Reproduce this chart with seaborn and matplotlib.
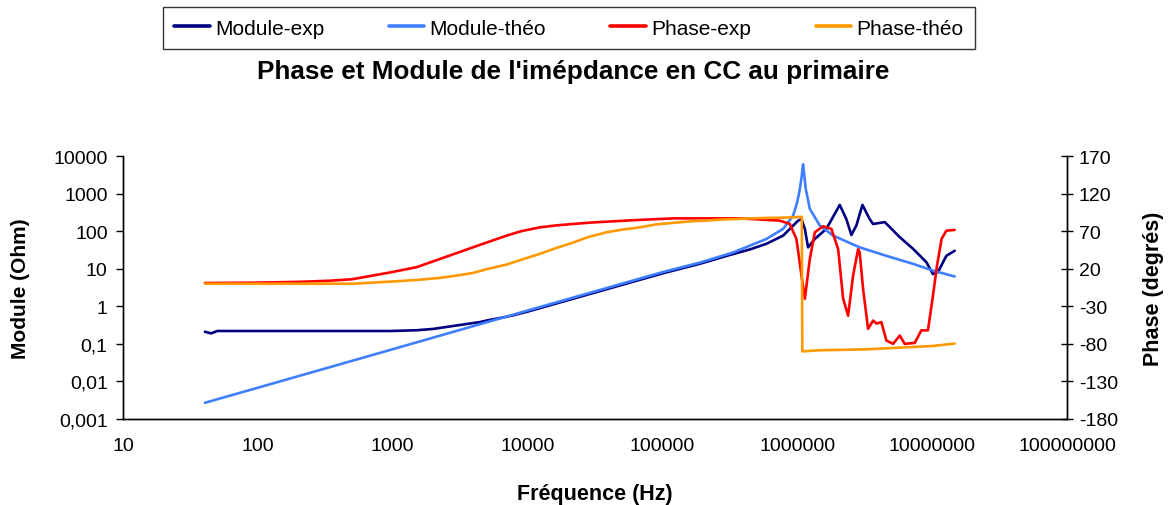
import numpy as np
import pandas as pd
import matplotlib
matplotlib.use('Agg')
import matplotlib.pyplot as plt
import seaborn as sns
from matplotlib.ticker import FixedLocator, FixedFormatter, NullLocator

sns.set_style("white")
plt.rcParams['font.family'] = ['Liberation Sans', 'DejaVu Sans']
plt.rcParams['axes.unicode_minus'] = False
plt.rcParams['text.color'] = 'black'
plt.rcParams['axes.labelcolor'] = 'black'

# Module théorique (Ohm) vs fréquence (Hz)
freq_mod_theo = [40.5, 100, 1000, 10000, 100000, 189000, 334000, 590000, 785000,
                 931000, 1000000, 1045000, 1080000, 1104000, 1156000, 1239000,
                 1469000, 1845000, 2904000, 4581000, 7211000, 10140000, 14690000]
mod_theo = [0.0027, 0.0068, 0.072, 0.77, 8.1, 14.5, 27, 62, 115,
            257, 600, 1320, 3000, 6000, 1320, 390,
            141, 76, 37, 22, 13.5, 8.9, 6.2]

# Module expérimental
freq_mod_exp = [40.5, 45, 50, 100, 300, 955, 1500, 2000, 2650, 3000, 4430, 5000,
                6500, 7760, 10000, 100000, 189000, 300000, 450000, 590000, 785000,
                1014000, 1074000, 1138000, 1202000, 1349000, 1644000, 2065000,
                2312000, 2518000, 2742000, 3041000, 3443000, 3648000, 4457000,
                5754000, 7211000, 9057000, 10140000, 11040000, 12740000, 14690000]
mod_exp = [0.21, 0.19, 0.22, 0.22, 0.22, 0.22, 0.23, 0.25, 0.29, 0.31, 0.38, 0.42,
           0.5, 0.57, 0.72, 7.5, 13.5, 22, 33, 46, 76,
           190, 209, 115, 37, 62, 115, 500,
           209, 79, 141, 500, 209, 155, 174,
           69, 34, 15, 7.2, 8.1, 22, 30]

# Phase expérimentale (degrés)
freq_ph_exp = [40.5, 100, 200, 339, 500, 955, 1500, 2240, 3000, 3950, 5000, 6980,
               9000, 12300, 16000, 21900, 30000, 38500, 60000, 120000, 372000,
               741000, 879000, 986000, 1074000, 1138000, 1239000, 1349000, 1556000,
               1790000, 2009000, 2188000, 2382000, 2594000, 2825000, 2900000,
               3076000, 3350000, 3650000, 3870000, 4200000, 4581000, 5130000,
               5754000, 6260000, 7430000, 8320000, 9310000, 10140000, 10860000,
               11750000, 12740000, 14690000]
ph_exp = [1, 1.5, 2.5, 4, 6, 15, 22, 33, 41, 48.6, 55, 64,
          70, 75, 77.5, 79.6, 81.5, 82.6, 84.5, 87, 87,
          84, 79.6, 59.6, 11, -20, 33, 68.5, 76.5,
          73, 46, -20, -42.5, 11, 46, 42,
          -7, -60, -49, -53, -51, -75.6, -80,
          -69, -80, -78.7, -62, -62, -16, 24,
          59.6, 70.6, 71.6]

# Phase théorique
freq_ph_theo = [40.5, 500, 1000, 1500, 2240, 3000, 3950, 5000, 6980, 9000, 12300,
                16000, 21900, 28000, 38500, 50000, 67600, 90000, 120000, 160000,
                209000, 280000, 372000, 550000, 800000, 1080000, 1090000, 1470000,
                3240000, 5750000, 10140000, 14690000]
ph_theo = [0, 0, 3, 5, 7.8, 11, 14.4, 19.5, 25.5, 32, 39.7,
           47, 55, 62, 68.5, 72, 75, 79, 81, 83,
           84, 85.5, 86.3, 87.5, 88, 89, -90, -88.5,
           -87.3, -85, -82.8, -79.6]

x_ticks = [10, 100, 1000, 10000, 100000, 1000000, 10000000, 100000000]
x_labels = ['10', '100', '1000', '10000', '100000', '1000000', '10000000', '100000000']
y_ticks = [0.001, 0.01, 0.1, 1, 10, 100, 1000, 10000]
y_labels = ['0,001', '0,01', '0,1', '1', '10', '100', '1000', '10000']
ph_ticks = [-180, -130, -80, -30, 20, 70, 120, 170]

c_mod_exp = '#000080'
c_mod_theo = '#3F7FFF'
c_ph_exp = '#FF0000'
c_ph_theo = '#FF9900'
lw = 1.9

fig = plt.figure(figsize=(11.68, 5.06), dpi=100)
ax = fig.add_axes([123 / 1168, 1 - 420 / 506, (1067 - 123) / 1168, (420 - 157) / 506])
ax.set_xscale('log')
ax.set_yscale('log')
ax2 = ax.twinx()

sns.lineplot(x=freq_mod_exp, y=mod_exp, ax=ax, color=c_mod_exp, lw=lw, label='Module-exp', legend=False)
sns.lineplot(x=freq_mod_theo, y=mod_theo, ax=ax, color=c_mod_theo, lw=lw, label='Module-théo', legend=False)
sns.lineplot(x=freq_ph_exp, y=ph_exp, ax=ax2, color=c_ph_exp, lw=lw, label='Phase-exp', legend=False)
sns.lineplot(x=freq_ph_theo, y=ph_theo, ax=ax2, color=c_ph_theo, lw=lw, label='Phase-théo', legend=False)

ax.set_xlim(10, 1e8)
ax.set_ylim(0.001, 10000)
ax2.set_ylim(-180, 170)

ax.xaxis.set_major_locator(FixedLocator(x_ticks))
ax.xaxis.set_major_formatter(FixedFormatter(x_labels))
ax.xaxis.set_minor_locator(NullLocator())
ax.yaxis.set_major_locator(FixedLocator(y_ticks))
ax.yaxis.set_major_formatter(FixedFormatter(y_labels))
ax.yaxis.set_minor_locator(NullLocator())
ax2.yaxis.set_major_locator(FixedLocator(ph_ticks))

for a in (ax, ax2):
    a.spines['top'].set_visible(False)
    for s in ('left', 'right', 'bottom'):
        a.spines[s].set_color('black')
        a.spines[s].set_linewidth(1.0)
    a.grid(False)

ax.tick_params(axis='x', direction='out', length=5, width=1, colors='black', labelsize=14, pad=8)
ax.tick_params(axis='y', direction='out', length=5, width=1, colors='black', labelsize=14, pad=6)
ax2.tick_params(axis='y', direction='inout', length=9, width=1, colors='black', labelsize=14, pad=4)

ax.set_xlabel('Fréquence (Hz)', fontsize=15.5, fontweight='bold', color='black')
ax.set_ylabel('Module (Ohm)', fontsize=15, fontweight='bold', color='black')
ax2.set_ylabel('Phase (degrés)', fontsize=15.5, fontweight='bold', color='black')
ax.xaxis.set_label_coords(0.5, -0.245)
ax.yaxis.set_label_coords(-0.098, 0.5)
ax2.yaxis.set_label_coords(1.08, 0.5)

fig.text(0.491, 0.857, "Phase et Module de l'imépdance en CC au primaire",
         ha='center', va='center', fontsize=18.8, fontweight='bold', color='black')

handles = ax.get_lines() + ax2.get_lines()
labels = [h.get_label() for h in handles]
leg = fig.legend(handles, labels, loc='upper center', bbox_to_anchor=(0.487, 0.984),
                 ncol=4, frameon=True, fancybox=False, edgecolor='black',
                 fontsize=15, handlelength=1.7, handletextpad=0.25, columnspacing=3.1,
                 borderpad=0.55, borderaxespad=0)
leg.get_frame().set_linewidth(1.0)
for h in leg.get_lines():
    h.set_linewidth(2.6)
for t in leg.get_texts():
    t.set_color('black')

plt.savefig('out.png', dpi=100)
plt.close('all')
